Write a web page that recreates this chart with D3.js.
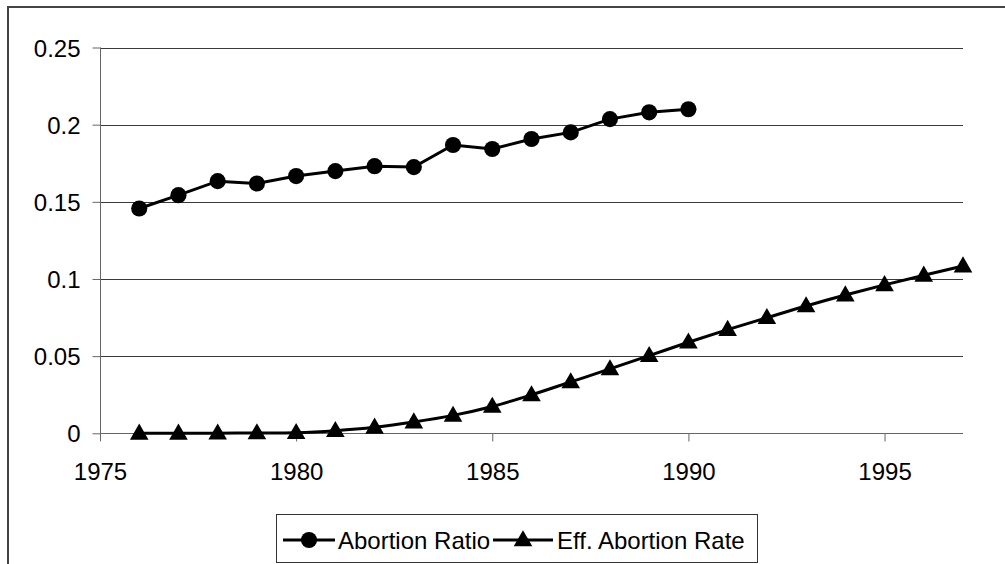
<!DOCTYPE html>
<html>
<head>
<meta charset="utf-8">
<script src="https://cdn.jsdelivr.net/npm/d3@7"></script>
<style>
  body { margin: 0; background: #fff; }
  svg { display: block; font-family: "Liberation Sans", Arial, sans-serif; }
</style>
</head>
<body>
<script>
// data
var ratioYears = [1976, 1977, 1978, 1979, 1980, 1981, 1982, 1983, 1984, 1985, 1986, 1987, 1988, 1989, 1990];
var abortionRatio = [0.1457, 0.1543, 0.1634, 0.1619, 0.1667, 0.1699, 0.1731, 0.1725, 0.1868, 0.1842, 0.1907, 0.195, 0.2036, 0.208, 0.210];

var rateYears = [1976, 1977, 1978, 1979, 1980, 1981, 1982, 1983, 1984, 1985, 1986, 1987, 1988, 1989, 1990, 1991, 1992, 1993, 1994, 1995, 1996, 1997];
var effAbortionRate = [0, 0, 0.0001, 0.0002, 0.0004, 0.0017, 0.0039, 0.0073, 0.0116, 0.0174, 0.0249, 0.0333, 0.0417, 0.0503, 0.059, 0.0672, 0.0749, 0.0825, 0.0896, 0.0962, 0.1024, 0.1084];

var xTicks = [1975, 1980, 1985, 1990, 1995];
var yTicks = [0, 0.05, 0.1, 0.15, 0.2, 0.25];
var seriesNames = ["Abortion Ratio", "Eff. Abortion Rate"];

var width = 1005, height = 564;
var fontSize = "24px";

var x = d3.scaleLinear().domain([1975, 1997]).range([100, 963]);
var y = d3.scaleLinear().domain([0, 0.25]).range([433.3, 47.5]);

var svg = d3.select("body").append("svg")
    .attr("width", width)
    .attr("height", height);

// outer chart border (right and bottom run off the picture)
svg.append("rect")
    .attr("x", 8).attr("y", 7)
    .attr("width", 1010).attr("height", 570)
    .attr("fill", "none")
    .attr("stroke", "#444")
    .attr("stroke-width", 2);

// gridlines
svg.selectAll(".grid")
    .data(yTicks.filter(function (d) { return d > 0; }))
    .enter().append("line")
    .attr("class", "grid")
    .attr("x1", x(1975)).attr("x2", x(1997))
    .attr("y1", function (d) { return Math.round(y(d)) + 0.5; })
    .attr("y2", function (d) { return Math.round(y(d)) + 0.5; })
    .attr("stroke", "#3a3a3a");

// y axis
var yAxis = svg.append("g")
    .attr("transform", "translate(100.5,0)")
    .call(d3.axisLeft(y).tickValues(yTicks).tickSize(8).tickPadding(12)
        .tickFormat(function (d) { return String(d); }));

// x axis
var xAxis = svg.append("g")
    .attr("transform", "translate(0," + (Math.round(y(0)) + 0.5) + ")")
    .call(d3.axisBottom(x).tickValues(xTicks).tickSize(8).tickPadding(21)
        .tickFormat(d3.format("d")));

[yAxis, xAxis].forEach(function (g) {
    g.select(".domain").attr("stroke", "#666");
    g.selectAll(".tick line").attr("stroke", "#666");
    g.selectAll(".tick text")
        .attr("fill", "#000")
        .style("font-size", fontSize)
        .style("font-family", "'Liberation Sans', Arial, sans-serif");
});
yAxis.selectAll(".tick line").attr("x1", 0).attr("x2", -8);
yAxis.selectAll(".tick text").attr("dy", "0.36em");
yAxis.select(".domain").attr("d", "M0," + y(0.25) + "V" + (y(0) + 8));
xAxis.select(".domain").attr("d", "M" + x(1975) + ",0H" + x(1997));
xAxis.selectAll(".tick").filter(function (d) { return d === 1975; }).select("line").remove();

// series
var ratioData = ratioYears.map(function (yr, i) { return [yr, abortionRatio[i]]; });
var rateData = rateYears.map(function (yr, i) { return [yr, effAbortionRate[i]]; });

var line = d3.line()
    .x(function (d) { return x(d[0]); })
    .y(function (d) { return y(d[1]); });

svg.append("path")
    .datum(ratioData)
    .attr("d", line)
    .attr("fill", "none")
    .attr("stroke", "#000")
    .attr("stroke-width", 3);

svg.append("path")
    .datum(rateData)
    .attr("d", line.curve(d3.curveCatmullRom))
    .attr("fill", "none")
    .attr("stroke", "#000")
    .attr("stroke-width", 3);

var circleSym = d3.symbol().type(d3.symbolCircle).size(205);
var triSym = d3.symbol().type(d3.symbolTriangle).size(150);

svg.selectAll(".dot")
    .data(ratioData)
    .enter().append("path")
    .attr("class", "dot")
    .attr("d", circleSym)
    .attr("transform", function (d) { return "translate(" + x(d[0]) + "," + y(d[1]) + ")"; })
    .attr("fill", "#000");

svg.selectAll(".tri")
    .data(rateData)
    .enter().append("path")
    .attr("class", "tri")
    .attr("d", triSym)
    .attr("transform", function (d) { return "translate(" + x(d[0]) + "," + (y(d[1]) + 1) + ")"; })
    .attr("fill", "#000");

// legend
var legend = svg.append("g");
legend.append("rect")
    .attr("x", 276.5).attr("y", 514.5)
    .attr("width", 481).attr("height", 48)
    .attr("fill", "#fff")
    .attr("stroke", "#333");

var legendItems = [
    { name: seriesNames[0], x1: 283, x2: 335, sym: circleSym, tx: 338 },
    { name: seriesNames[1], x1: 493, x2: 553, sym: triSym, tx: 557 }
];
var ly = 540;
legendItems.forEach(function (it) {
    legend.append("line")
        .attr("x1", it.x1).attr("x2", it.x2)
        .attr("y1", ly).attr("y2", ly)
        .attr("stroke", "#000").attr("stroke-width", 3);
    legend.append("path")
        .attr("d", it.sym)
        .attr("transform", "translate(" + ((it.x1 + it.x2) / 2) + "," + (ly + (it.sym === triSym ? 1 : 0)) + ")")
        .attr("fill", "#000");
    legend.append("text")
        .attr("x", it.tx).attr("y", ly)
        .attr("dy", "0.36em")
        .style("font-size", fontSize)
        .text(it.name);
});
</script>
</body>
</html>
